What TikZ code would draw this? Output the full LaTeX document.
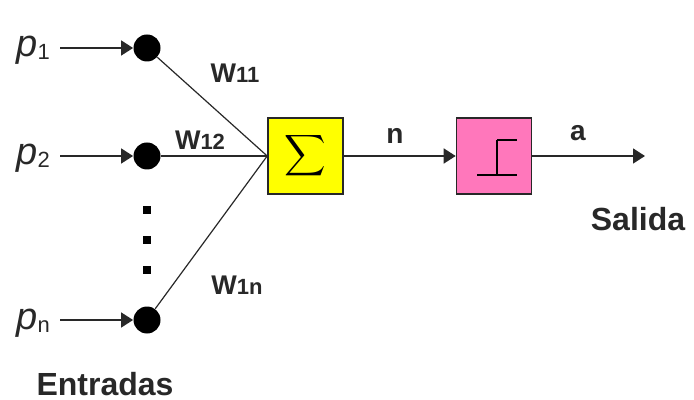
\documentclass[tikz,border=0pt]{standalone}
\usepackage{amsmath}
\usepackage{fontspec}
\setmainfont{Liberation Sans}
\usetikzlibrary{positioning,arrows.meta,calc}
\definecolor{sumfill}{RGB}{255,255,0}
\definecolor{stepfill}{RGB}{255,119,187}
\definecolor{ink}{RGB}{40,40,40}

% input symbol p with a lowered index
\newcommand{\inp}[1]{{\fontsize{19}{20}\selectfont\itshape p}\raisebox{-1.5pt}{\fontsize{11}{12}\selectfont #1}}
% weight label W with its smaller index
\newcommand{\wgt}[1]{W{\fontsize{11}{12}\selectfont #1}}

\begin{document}
\begin{tikzpicture}[
  x=0.5pt, y=-0.5pt,
  blockbox/.style = {
    rectangle, draw=ink, line width=0.8pt,
    minimum width=37.5pt, minimum height=38pt, inner sep=0pt
  },
  sumbox/.style  = {blockbox, fill=sumfill},
  stepbox/.style = {blockbox, fill=stepfill},
  knot/.style = {circle, fill=black, minimum size=13.5pt, inner sep=0pt},
  inlbl/.style = {anchor=base west, inner sep=0pt, text=ink},
  wlbl/.style  = {font=\fontsize{13.5}{15}\selectfont\bfseries, text=ink},
  sig/.style   = {font=\fontsize{14}{16}\selectfont\bfseries, text=ink},
  ttl/.style   = {font=\fontsize{16}{18}\selectfont\bfseries, text=ink},
  ia/.style    = {-{Triangle[length=6pt,width=7.5pt]}, line width=0.8pt, ink},
  wire/.style  = {line width=0.6pt, ink}
]
\useasboundingbox (0,0) rectangle (694,400);

%% ---------- Inputs ----------
\node[knot] (d1) at (147,48)  {};
\node[knot] (d2) at (147,156) {};
\node[knot] (dn) at (147,320) {};

\node[inlbl] (p1) at (16,57)  {\inp{1}};
\node[inlbl] (p2) at (16,165) {\inp{2}};
\node[inlbl] (pn) at (16,329) {\inp{n}};

\coordinate (s1) at (60,48);
\coordinate (s2) at (60,156);
\coordinate (sn) at (60,320);

\foreach \y in {210,240,270}
  \fill[black] (147,\y) ++(-4,-4) rectangle ++(8,8);

\node[ttl] (ent) at (105,384) {Entradas};

%% ---------- Blocks ----------
\node[sumbox]  (sum)  at (305.5,156) {\fontsize{15}{18}\selectfont$\displaystyle\sum$};
\node[stepbox] (step) at (494,156)   {};

% step function inside the pink block
\draw[wire, line width=0.8pt, black]
  ($(step.center)+(3,-16)$) -- ++(20,0)
  ($(step.center)+(3,-16)$) -- ++(0,35)
  ($(step.center)+(-17,19)$) -- ++(40,0);

\coordinate (out) at (645,156);

%% ---------- Labels ----------
\node[wlbl] (w11) at (235,73)  {\wgt{11}};
\node[wlbl] (w12) at (200,140) {\wgt{12}};
\node[wlbl] (w1n) at (237,285) {\wgt{1n}};

\node[sig] (nl) at (395,136) {n};
\node[sig] (al) at (578,133) {a};
\node[ttl] (sal) at (638,219) {Salida};

%% ---------- Arrows ----------
\draw[ia] (s1) -- (d1);
\draw[ia] (s2) -- (d2);
\draw[ia] (sn) -- (dn);

\draw[wire] (d1) -- (sum.west);
\draw[wire] (d2) -- (sum.west);
\draw[wire] (dn) -- (sum.west);

\draw[ia] (sum)  -- (step);
\draw[ia] (step) -- (out);

\end{tikzpicture}
\end{document}
